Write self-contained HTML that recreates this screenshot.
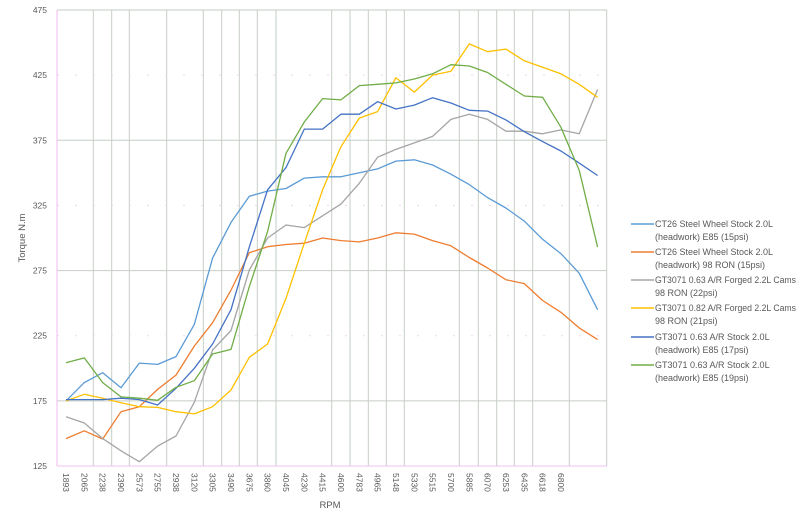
<!DOCTYPE html>
<html><head><meta charset="utf-8"><style>
body{margin:0;background:#fff;}
svg{display:block;font-family:"Liberation Sans",sans-serif;}
</style></head><body>
<svg id="s" width="800" height="519" viewBox="0 0 800 519" xmlns="http://www.w3.org/2000/svg">
<rect width="800" height="519" fill="#fff"/>
<g id="grid"></g>
<g id="series" fill="none" stroke-width="1.3" stroke-linejoin="round"></g>
<g id="labels" font-size="8.5" fill="#595959"></g>
<text x="0" y="0" font-size="9.5" fill="#595959" text-anchor="middle" transform="translate(25,238) rotate(-90)">Torque N.m</text>
<text x="330" y="508" font-size="9.5" fill="#595959" text-anchor="middle">RPM</text>
<g font-size="9" fill="#595959">
<line x1="631" y1="224" x2="654" y2="224" stroke="#5B9BD5" stroke-width="1.5"/>
<text x="655" y="227">CT26 Steel Wheel Stock 2.0L</text><text x="655" y="240">(headwork) E85 (15psi)</text>
<line x1="631" y1="252" x2="654" y2="252" stroke="#ED7D31" stroke-width="1.5"/>
<text x="655" y="255">CT26 Steel Wheel Stock 2.0L</text><text x="655" y="268">(headwork) 98 RON (15psi)</text>
<line x1="631" y1="280" x2="654" y2="280" stroke="#A5A5A5" stroke-width="1.5"/>
<text x="655" y="283" textLength="141" lengthAdjust="spacingAndGlyphs">GT3071 0.63 A/R Forged 2.2L Cams</text><text x="655" y="296">98 RON (22psi)</text>
<line x1="631" y1="308" x2="654" y2="308" stroke="#FFC000" stroke-width="1.5"/>
<text x="655" y="311" textLength="141" lengthAdjust="spacingAndGlyphs">GT3071 0.82 A/R Forged 2.2L Cams</text><text x="655" y="324">98 RON (21psi)</text>
<line x1="631" y1="337" x2="654" y2="337" stroke="#4472C4" stroke-width="1.5"/>
<text x="655" y="340">GT3071 0.63 A/R Stock 2.0L</text><text x="655" y="353">(headwork) E85 (17psi)</text>
<line x1="631" y1="365" x2="654" y2="365" stroke="#70AD47" stroke-width="1.5"/>
<text x="655" y="368">GT3071 0.63 A/R Stock 2.0L</text><text x="655" y="381">(headwork) E85 (19psi)</text>
</g>
</svg>
<script>
var NS="http://www.w3.org/2000/svg";
function el(p,t,a,txt){var e=document.createElementNS(NS,t);for(var k in a)e.setAttribute(k,a[k]);if(txt)e.textContent=txt;p.appendChild(e);return e;}
var g=document.getElementById("grid"),L=document.getElementById("labels"),S=document.getElementById("series");
function Y(v){return 466-(v-125)*1.3029;}
function X(i){return 66+18.33*i;}
var vx=[93.3,111.7,129.3,166.7,203.3,221.7,239.3,257.3,276,331.7,350,368.3,386.3,404.3,459.3,478.3,496.7,514.3,532.7,569.3,606.7];
vx.forEach(function(x){el(g,"line",{x1:x,y1:10,x2:x,y2:466,stroke:"#c5cec5","stroke-width":1});});
[475,425,375,325,275,225,175].forEach(function(v,i){
 var y=Y(v);
 if(v%100==75) el(g,"line",{x1:57,y1:y,x2:607,y2:y,stroke:"#c5cec5","stroke-width":1});
 else el(g,"line",{x1:57,y1:y,x2:607,y2:y,stroke:"#ecd8ec","stroke-width":1,"stroke-dasharray":"2 16"});
});
el(g,"line",{x1:57,y1:10,x2:57,y2:466,stroke:"#f0b8f0","stroke-width":1});
el(g,"line",{x1:57,y1:466,x2:607,y2:466,stroke:"#f0c0f0","stroke-width":1});
for(var v=125;v<=475;v+=50){el(L,"text",{x:47,y:Y(v)+3,"text-anchor":"end"},String(v));}
var rpm=[1893,2065,2238,2390,2573,2755,2938,3120,3305,3490,3675,3860,4045,4230,4415,4600,4783,4965,5148,5330,5515,5700,5885,6070,6253,6435,6618,6800];
rpm.forEach(function(r,i){var x=X(i)-3;el(L,"text",{x:0,y:0,transform:"translate("+x+",473) rotate(90)"},String(r));});
var data={
"#5B9BD5":[175,189,196.6,185,204,203,209,233.7,284.6,312,332,336,338,346,347,347,350,353,359,360,356,349,341,331,323,313,299,288,273,245],
"#ED7D31":[146,152,145.7,166.7,170.5,183.8,194.8,217,235,260,288.7,293.3,295,296,300,298,297,300,304,303,298,294,285,277,268,265,252,243,231,222],
"#A5A5A5":[162.8,158,146,136.7,128.3,140.3,148,173.9,214,229,275.4,300,310,308,317,326,342,362,368,373,378,391,395,391,382,382,380,383,380,414],
"#FFC000":[175,180,177,173.6,170.5,170,166.7,165,170.5,183.3,208.4,218.6,253.7,296,337,370,392,397,423,412,425,428,449,443,445,436,431,426,418,408],
"#4472C4":[176,176,176,177,176,171.8,184.6,200,218.6,245,293,337,354,383.6,383.6,395,395,404.6,399,402,407.7,403.6,398,397.4,390.6,381.6,374,366.8,357.5,348],
"#70AD47":[204.3,208,189,178,177,175.4,185.4,190.5,211,214.5,262.6,305,365,389,407,406,417,418,419,422,426,433,432,427,418,409,408,385,352,293]
};
for(var c in data){var pts=data[c].map(function(v,i){return X(i).toFixed(1)+","+Y(v).toFixed(1);}).join(" ");el(S,"polyline",{points:pts,stroke:c});}
</script>
</body></html>
